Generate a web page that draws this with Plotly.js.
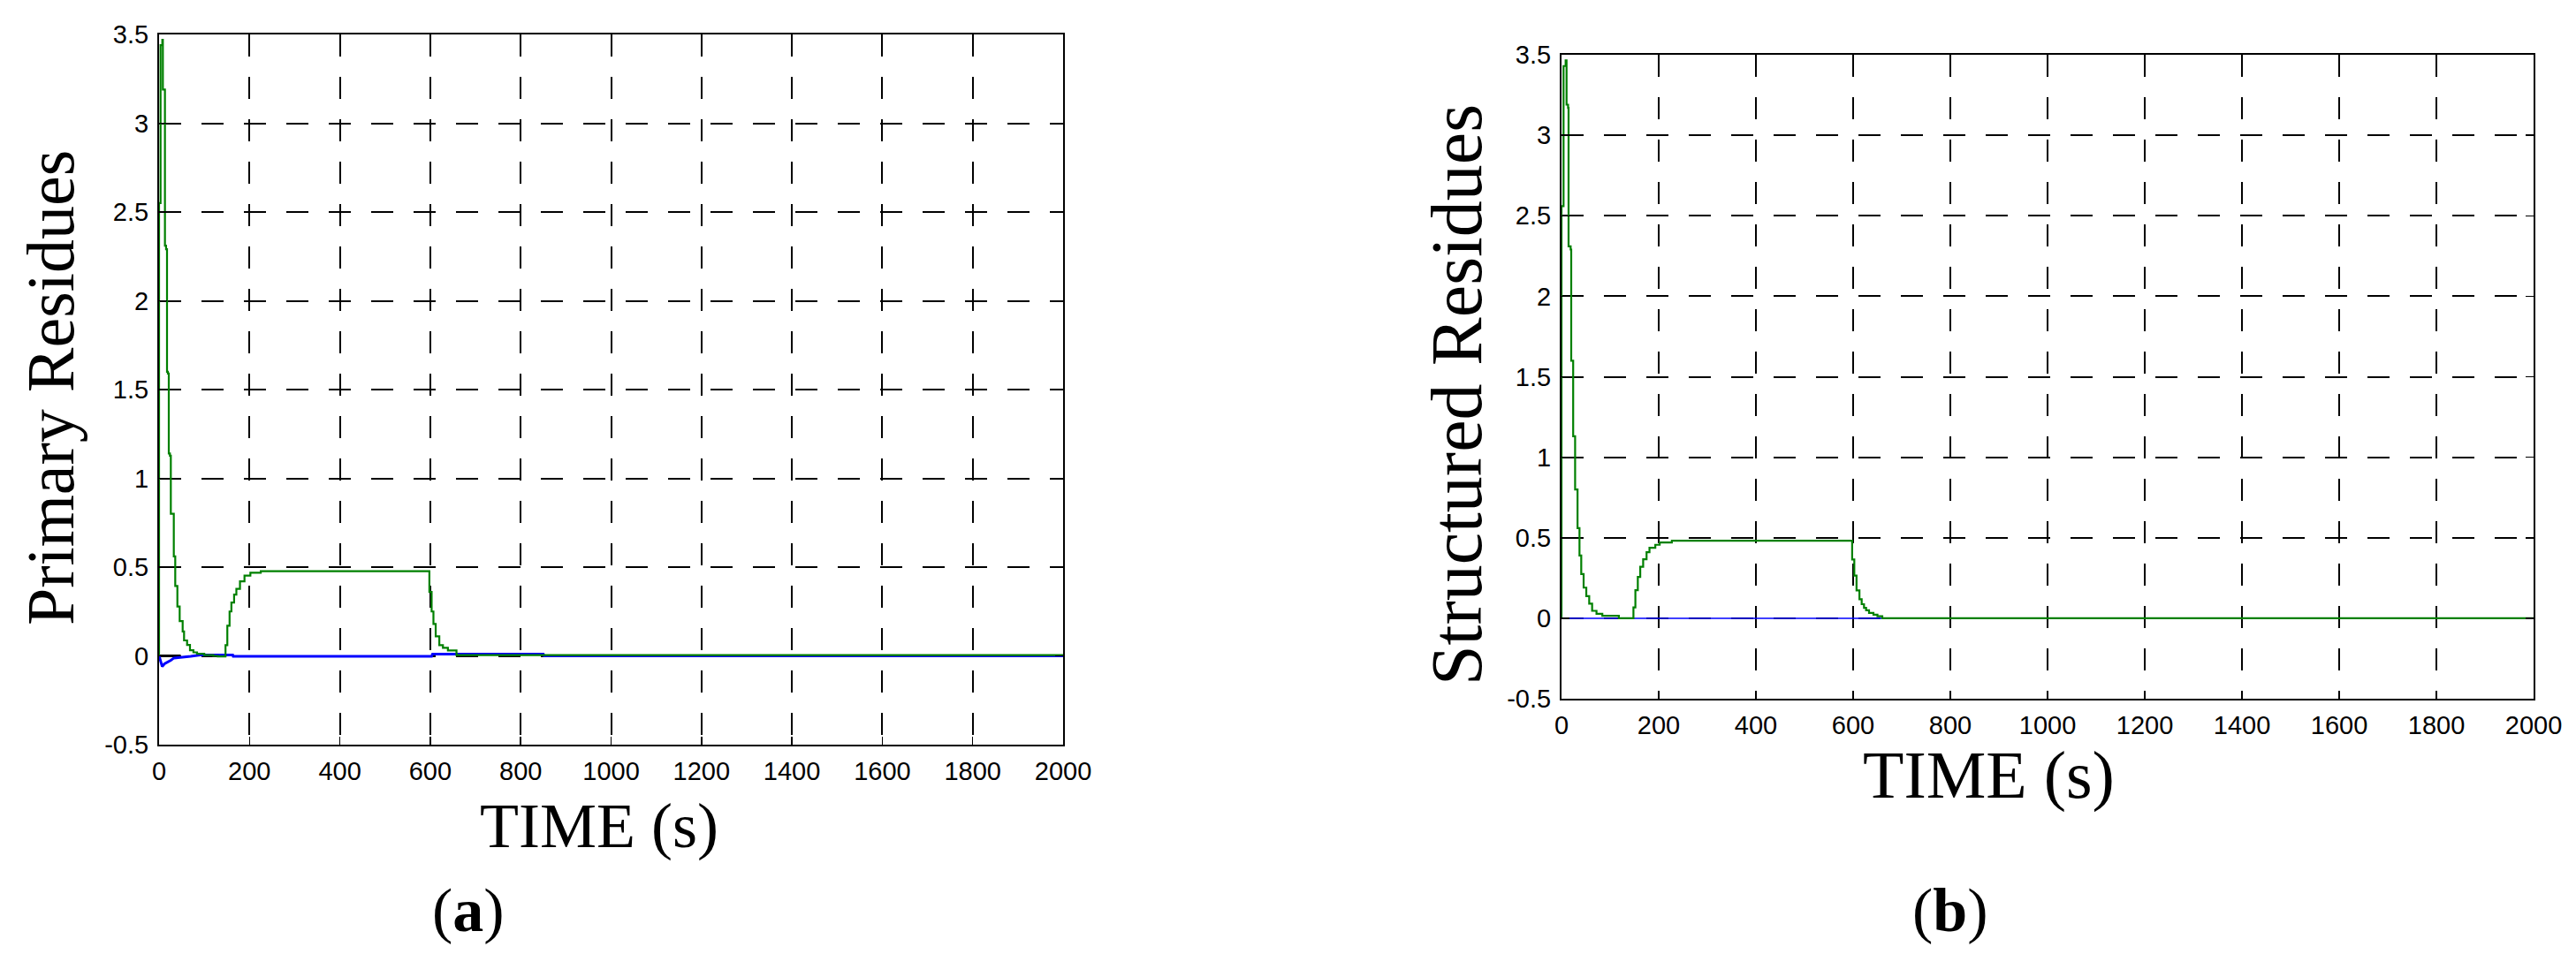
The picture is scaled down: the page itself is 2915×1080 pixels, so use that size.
<!DOCTYPE html>
<html>
<head>
<meta charset="utf-8">
<script src="https://cdn.plot.ly/plotly-3.0.1.min.js"></script>
<style>
  html, body { margin: 0; padding: 0; background: #fff; }
  #chart { width: 2915px; height: 1080px; }
</style>
</head>
<body>
<div id="chart"></div>
<script>
// ── residue plots: (a) primary, (b) structured ──────────────────────────────

// panel (a) green residue, held steps (time s, value)
const greenA_t = [0, 0, 3.3, 7.2, 8.4, 13, 15.5, 17.6, 19.5, 21.5, 24, 26, 32.6, 35.8, 40.5, 45.6,
                  52.2, 55.3, 62, 68.4, 76, 84, 100, 120, 130, 147, 151, 156, 160, 166, 171, 179,
                  189, 202, 225, 598, 603, 607, 612, 620, 628, 639, 658, 2000];
const greenA_v = [0, 2.55, 3.44, 3.47, 3.19, 2.31, 2.29, 1.60, 1.59, 1.14, 1.127, 0.80, 0.56, 0.394, 0.278, 0.196,
                  0.137, 0.087, 0.062, 0.032, 0.02, 0.012, 0.004, 0, -0.003, 0.06, 0.17, 0.25, 0.30, 0.345, 0.377, 0.42,
                  0.452, 0.468, 0.477, 0.36, 0.25, 0.18, 0.11, 0.06, 0.045, 0.03, 0.004, 0];

// panel (a) blue residue
const blueA_t = [0, 7, 12, 19, 26, 33, 52, 70, 91, 163, 164, 603, 605, 850, 852, 2000];
const blueA_v = [0, -0.06, -0.045, -0.037, -0.025, -0.012, -0.005, -0.002, 0.005, 0.005, -0.002, -0.002, 0.01, 0.01, 0, 0];

// panel (a) black residue (only visible at the very start)
const blackA_t = [0, 48];
const blackA_v = [0, 0];

// panel (b) green residue
const greenB_t = [0, 0, 4.2, 8.5, 10.4, 13.5, 14.5, 18.8, 20, 24, 28, 33, 37, 40.6, 45.5, 51, 57, 63,
                  72, 84, 118, 148, 152, 157, 162, 168, 175, 181, 193, 202, 227, 598, 602.4, 607,
                  613, 617.6, 622.4, 626.7, 632.7, 641.8, 650, 660, 2000];
const greenB_v = [0, 2.56, 3.43, 3.465, 3.19, 3.17, 2.31, 2.29, 1.60, 1.13, 0.80, 0.56, 0.39, 0.274, 0.19, 0.137, 0.09, 0.046,
                  0.027, 0.015, 0, 0.067, 0.174, 0.256, 0.32, 0.366, 0.41, 0.438, 0.456, 0.47, 0.482, 0.365, 0.265, 0.173,
                  0.118, 0.087, 0.064, 0.049, 0.033, 0.022, 0.012, 0, 0];

// panel (b) blue residue
const blueB_t = [0, 2000];
const blueB_v = [0, 0];

// ticks
const xTickVals = [0, 200, 400, 600, 800, 1000, 1200, 1400, 1600, 1800, 2000];
const xTickText = ['0', '200', '400', '600', '800', '1000', '1200', '1400', '1600', '1800', '2000'];
const yTickVals = [-0.5, 0, 0.5, 1, 1.5, 2, 2.5, 3, 3.5];
const yTickText = ['-0.5', '0', '0.5', '1', '1.5', '2', '2.5', '3', '3.5'];

const W = 2915, H = 1080;
const px = x => x / W;
const py = y => 1 - y / H;

const GREEN = '#008000';
const BLUE  = '#0000ff';
const SERIF = '"Liberation Serif", "Times New Roman", serif';
const SANS  = '"Liberation Sans", Arial, Helvetica, sans-serif';

const axisBase = {
    showline: true, linecolor: '#000', linewidth: 2, mirror: 'ticks',
    ticks: 'inside', ticklen: 9, tickwidth: 1.5, tickcolor: '#000',
    showgrid: true, gridcolor: '#000', gridwidth: 2, griddash: '25px,23px',
    zeroline: false, tickfont: { family: SANS, size: 29, color: '#000' },
};

const xAxis = (domain, anchor) => Object.assign({}, axisBase, {
    domain, anchor, range: [0, 2000],
    tickmode: 'array', tickvals: xTickVals, ticktext: xTickText,
    ticklabelstandoff: 3,
});
const yAxis = (domain, anchor) => Object.assign({}, axisBase, {
    domain, anchor, range: [-0.5, 3.5],
    tickmode: 'array', tickvals: yTickVals, ticktext: yTickText,
    ticklabelstandoff: 4,
});

const traces = [
    { x: blackA_t, y: blackA_v, xaxis: 'x', yaxis: 'y', mode: 'lines',
      line: { color: '#000', width: 3 } },
    { x: blueA_t, y: blueA_v, xaxis: 'x', yaxis: 'y', mode: 'lines',
      line: { color: BLUE, width: 3 } },
    { x: greenA_t, y: greenA_v, xaxis: 'x', yaxis: 'y', mode: 'lines',
      line: { color: GREEN, width: 2.2, shape: 'hv' } },
    { x: blueB_t, y: blueB_v, xaxis: 'x2', yaxis: 'y2', mode: 'lines',
      line: { color: BLUE, width: 1.5 } },
    { x: greenB_t, y: greenB_v, xaxis: 'x2', yaxis: 'y2', mode: 'lines',
      line: { color: GREEN, width: 2.2, shape: 'hv' } },
];

const ann = (text, x, y, size, angle) => ({
    text, x: px(x), y: py(y), xref: 'paper', yref: 'paper',
    xanchor: 'center', yanchor: 'middle', showarrow: false,
    textangle: angle || 0, font: { family: SERIF, size, color: '#000' },
});

const layout = {
    width: W, height: H,
    margin: { l: 0, r: 0, t: 0, b: 0 },
    paper_bgcolor: '#fff', plot_bgcolor: '#fff',
    showlegend: false,
    xaxis:  xAxis([px(180), px(1203)], 'y'),
    yaxis:  yAxis([py(843), py(39)], 'x'),
    xaxis2: xAxis([px(1767), px(2867)], 'y2'),
    yaxis2: yAxis([py(791), py(62)], 'x2'),
    annotations: [
        ann('Primary Residues', 57, 439, 76, -90),
        ann('Structured Residues', 1649, 447, 82, -90),
        ann('TIME (s)', 678, 935, 72),
        ann('TIME (s)', 2250, 877, 76),
        ann('(<b>a</b>)', 530, 1030, 70),
        ann('(<b>b</b>)', 2207, 1030, 70),
    ],
};

Plotly.newPlot('chart', traces, layout, { staticPlot: true, displayModeBar: false });
</script>
</body>
</html>
